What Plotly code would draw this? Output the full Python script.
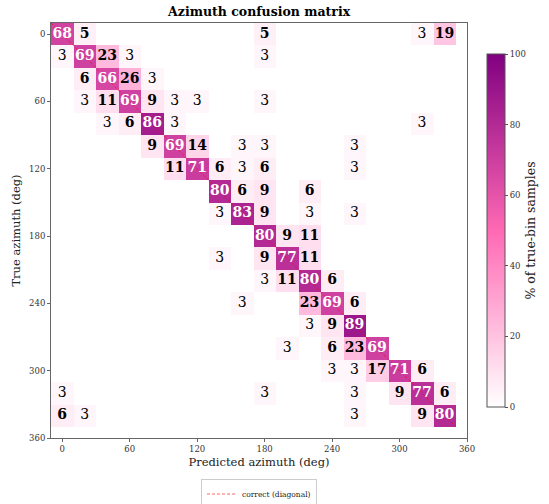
import plotly.graph_objects as go

# bin centres (deg)
bins = [0, 20, 40, 60, 80, 100, 120, 140, 160, 180, 200, 220, 240, 260, 280, 300, 320, 340]
x_ticks = [0, 60, 120, 180, 240, 300, 360]
cbar_ticks = [0, 20, 40, 60, 80, 100]

# % of true-bin samples; rows = true bin, cols = predicted bin
percent = [
    [68, 5, 0, 0, 0, 0, 0, 0, 0, 5, 0, 0, 0, 0, 0, 0, 3, 19],
    [3, 69, 23, 3, 0, 0, 0, 0, 0, 3, 0, 0, 0, 0, 0, 0, 0, 0],
    [0, 6, 66, 26, 3, 0, 0, 0, 0, 0, 0, 0, 0, 0, 0, 0, 0, 0],
    [0, 3, 11, 69, 9, 3, 3, 0, 0, 3, 0, 0, 0, 0, 0, 0, 0, 0],
    [0, 0, 3, 6, 86, 3, 0, 0, 0, 0, 0, 0, 0, 0, 0, 0, 3, 0],
    [0, 0, 0, 0, 9, 69, 14, 0, 3, 3, 0, 0, 0, 3, 0, 0, 0, 0],
    [0, 0, 0, 0, 0, 11, 71, 6, 3, 6, 0, 0, 0, 3, 0, 0, 0, 0],
    [0, 0, 0, 0, 0, 0, 0, 80, 6, 9, 0, 6, 0, 0, 0, 0, 0, 0],
    [0, 0, 0, 0, 0, 0, 0, 3, 83, 9, 0, 3, 0, 3, 0, 0, 0, 0],
    [0, 0, 0, 0, 0, 0, 0, 0, 0, 80, 9, 11, 0, 0, 0, 0, 0, 0],
    [0, 0, 0, 0, 0, 0, 0, 3, 0, 9, 77, 11, 0, 0, 0, 0, 0, 0],
    [0, 0, 0, 0, 0, 0, 0, 0, 0, 3, 11, 80, 6, 0, 0, 0, 0, 0],
    [0, 0, 0, 0, 0, 0, 0, 0, 3, 0, 0, 23, 69, 6, 0, 0, 0, 0],
    [0, 0, 0, 0, 0, 0, 0, 0, 0, 0, 0, 3, 9, 89, 0, 0, 0, 0],
    [0, 0, 0, 0, 0, 0, 0, 0, 0, 0, 3, 0, 6, 23, 69, 0, 0, 0],
    [0, 0, 0, 0, 0, 0, 0, 0, 0, 0, 0, 0, 3, 3, 17, 71, 6, 0],
    [3, 0, 0, 0, 0, 0, 0, 0, 0, 3, 0, 0, 0, 3, 0, 9, 77, 6],
    [6, 3, 0, 0, 0, 0, 0, 0, 0, 0, 0, 0, 0, 3, 0, 0, 9, 80],
]

FONT = "DejaVu Serif"
half = (bins[1] - bins[0]) / 2

z = [[(v if v > 0 else None) for v in row] for row in percent]

fig = go.Figure()
fig.add_trace(go.Heatmap(
    x=bins, y=bins, z=z, zmin=0, zmax=100,
    colorscale=[[0, "#ffffff"], [0.5, "#ff69b4"], [1, "#800080"]],
    showscale=True, hoverinfo="skip", showlegend=False,
    colorbar=dict(
        thickness=18, len=0.85, y=0.5, yanchor="middle",
        x=1.047, xanchor="left", xpad=0, ypad=0,
        outlinewidth=1, outlinecolor="#555",
        tickvals=cbar_ticks, ticks="outside", ticklen=3, tickcolor="#555",
        tickfont=dict(family=FONT, size=8.5, color="#333"),
        title=dict(text="% of true-bin samples", side="right",
                   font=dict(family=FONT, size=12.5, color="#222")),
    ),
))

# diagonal line
lo = bins[0] - half
hi = bins[-1] + half
fig.add_trace(go.Scatter(
    x=[lo, hi], y=[lo, hi], mode="lines",
    line=dict(color="rgba(255,0,0,0.6)", width=1, dash="3px,2px"),
    name="correct (diagonal)", hoverinfo="skip",
))

# cell labels
groups = {"wb": ([], [], []), "kb": ([], [], []), "kn": ([], [], [])}
for i, row in enumerate(percent):
    for j, v in enumerate(row):
        if v <= 0:
            continue
        key = "wb" if v >= 50 else ("kb" if v >= 5 else "kn")
        groups[key][0].append(bins[j])
        groups[key][1].append(bins[i])
        groups[key][2].append(str(v))

styles = {"wb": ("white", "bold"), "kb": ("black", "bold"), "kn": ("black", "normal")}
for key, (xs, ys, ts) in groups.items():
    col, wt = styles[key]
    fig.add_trace(go.Scatter(
        x=xs, y=ys, text=ts, mode="text", showlegend=False, hoverinfo="skip",
        textposition="middle center",
        textfont=dict(family=FONT, size=14, color=col, weight=wt),
    ))

axis_common = dict(
    showgrid=False, zeroline=False, showline=True, linecolor="#666", linewidth=1,
    mirror=True, ticks="outside", ticklen=3, tickcolor="#666", automargin=False,
    tickfont=dict(family=FONT, size=8.5, color="#333"),
)
fig.update_xaxes(range=[lo, 360], tickvals=x_ticks,
                 title=dict(text="Predicted azimuth (deg)", font=dict(family=FONT, size=11.5, color="#222"), standoff=4),
                 **axis_common)
fig.update_yaxes(range=[360, lo], tickvals=x_ticks,
                 title=dict(text="True azimuth (deg)", font=dict(family=FONT, size=11.5, color="#222"), standoff=6),
                 **axis_common)

fig.update_layout(
    width=549, height=504,
    margin=dict(l=51, r=82, t=23, b=66, autoexpand=False),
    plot_bgcolor="white", paper_bgcolor="white",
    title=dict(text="<b>Azimuth confusion matrix</b>", x=0.472, xanchor="center",
               y=0.976, yanchor="middle",
               font=dict(family=FONT, size=12.5, color="black")),
    showlegend=True,
    legend=dict(orientation="h", x=0.5, xanchor="center", y=-0.135, yanchor="middle",
                bordercolor="#ccc", borderwidth=1, bgcolor="white",
                itemwidth=30, tracegroupgap=0,
                font=dict(family=FONT, size=7.5, color="#222")),
)

fig.write_html("out.html", config={"displayModeBar": False},
               post_script="document.body.style.margin='0px';")
